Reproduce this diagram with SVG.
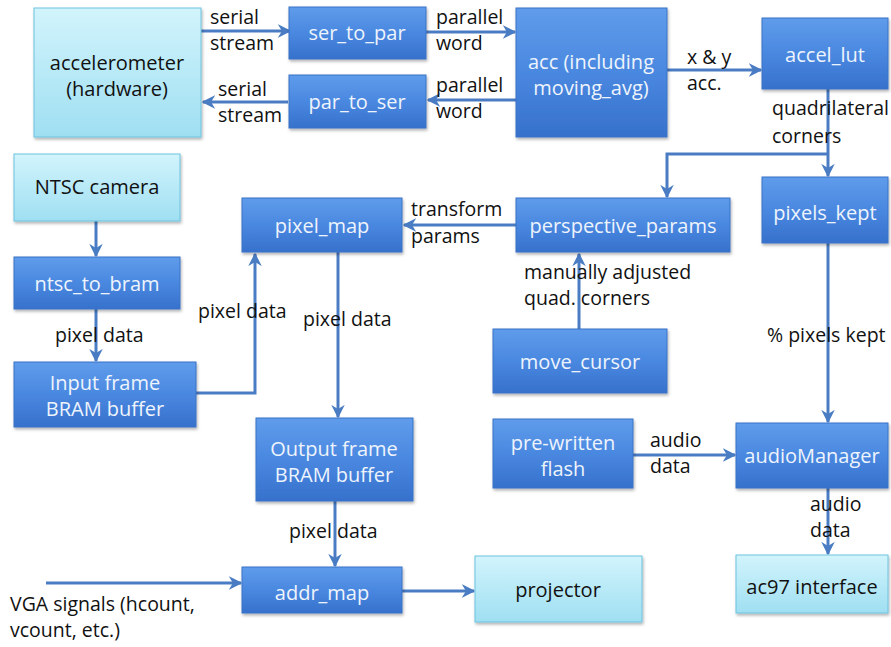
<svg xmlns="http://www.w3.org/2000/svg" width="891" height="647" viewBox="0 0 891 647">
<defs>
<linearGradient id="gd" x1="0" y1="0" x2="0" y2="1">
<stop offset="0" stop-color="#5f9ceb"/>
<stop offset="0.5" stop-color="#4a88e0"/>
<stop offset="1" stop-color="#3671cc"/>
</linearGradient>
<linearGradient id="gl" x1="0" y1="0" x2="0" y2="1">
<stop offset="0" stop-color="#d2f4fc"/>
<stop offset="1" stop-color="#9fdff2"/>
</linearGradient>
<filter id="sh" x="-10%" y="-10%" width="130%" height="140%">
<feDropShadow dx="1" dy="2" stdDeviation="1.5" flood-color="#000" flood-opacity="0.3"/>
</filter>
<marker id="ah" viewBox="0 0 10 10" refX="9" refY="5" markerWidth="4.5" markerHeight="4.5" orient="auto" markerUnits="strokeWidth">
<path d="M0,0 L10,5 L0,10 L3,5 Z" fill="#4a7cc4"/>
</marker>
</defs>
<style>
.d{fill:url(#gd);stroke:#3a72c6;stroke-width:1;filter:url(#sh)}
.l{fill:url(#gl);stroke:#6cc3df;stroke-width:1;filter:url(#sh)}
.td{font-family:"Open Sans","Liberation Sans",sans-serif;font-size:20px;fill:#eef4fc;text-anchor:middle}
.tl{font-family:"Open Sans","Liberation Sans",sans-serif;font-size:20px;fill:#111;text-anchor:middle}
.lb{font-family:"Open Sans","Liberation Sans",sans-serif;font-size:19.5px;fill:#111}
.c{fill:none;stroke:#4a7cc4;stroke-width:3;marker-end:url(#ah)}
</style>
<rect width="891" height="647" fill="#fff"/>
<g id="connectors">
<path class="c" d="M201,31 H290"/>
<path class="c" d="M288,102 H203"/>
<path class="c" d="M426,32 H515"/>
<path class="c" d="M516,100 H428"/>
<path class="c" d="M667,70 H761"/>
<path class="c" d="M828,89 V176"/>
<path class="c" d="M828,154 H667 V197"/>
<path class="c" d="M516,225 H404"/>
<path class="c" d="M579,329 V254"/>
<path class="c" d="M338,252 V417"/>
<path class="c" d="M196,393 H255 V254"/>
<path class="c" d="M96,221 V256"/>
<path class="c" d="M96,309 V361"/>
<path class="c" d="M335,501 V566"/>
<path class="c" d="M402,591 H474"/>
<path class="c" d="M46,583 H241"/>
<path class="c" d="M633,455 H735"/>
<path class="c" d="M828,243 V422"/>
<path class="c" d="M828,488 V554"/>
</g>
<g id="labels">
<text class="lb" x="210" y="24">serial</text>
<text class="lb" x="210" y="50">stream</text>
<text class="lb" x="218" y="96">serial</text>
<text class="lb" x="218" y="122">stream</text>
<text class="lb" x="436" y="24">parallel</text>
<text class="lb" x="436" y="50">word</text>
<text class="lb" x="436" y="92">parallel</text>
<text class="lb" x="436" y="118">word</text>
<text class="lb" x="687" y="64">x &amp; y</text>
<text class="lb" x="687" y="90">acc.</text>
<text class="lb" x="772" y="115">quadrilateral</text>
<text class="lb" x="772" y="143">corners</text>
<text class="lb" x="411" y="216">transform</text>
<text class="lb" x="411" y="243">params</text>
<text class="lb" x="524" y="279">manually adjusted</text>
<text class="lb" x="524" y="305">quad. corners</text>
<text class="lb" x="198" y="318">pixel data</text>
<text class="lb" x="303" y="326">pixel data</text>
<text class="lb" x="55" y="342">pixel data</text>
<text class="lb" x="767" y="342">% pixels kept</text>
<text class="lb" x="650" y="447">audio</text>
<text class="lb" x="650" y="473">data</text>
<text class="lb" x="810" y="511">audio</text>
<text class="lb" x="810" y="537">data</text>
<text class="lb" x="289" y="538">pixel data</text>
<text class="lb" x="10" y="611">VGA signals (hcount,</text>
<text class="lb" x="10" y="637">vcount, etc.)</text>
</g>
<g id="accelerometer"><rect class="l" x="34" y="8" width="167" height="129"/><text class="tl" x="117" y="70">accelerometer</text><text class="tl" x="117" y="96">(hardware)</text></g>
<g id="ser_to_par"><rect class="d" x="289" y="7" width="137" height="52"/><text class="td" x="357" y="40">ser_to_par</text></g>
<g id="par_to_ser"><rect class="d" x="289" y="75" width="137" height="53"/><text class="td" x="357" y="109">par_to_ser</text></g>
<g id="acc"><rect class="d" x="516" y="8" width="151" height="129"/><text class="td" x="591" y="69">acc (including</text><text class="td" x="591" y="95">moving_avg)</text></g>
<g id="accel_lut"><rect class="d" x="762" y="18" width="126" height="71"/><text class="td" x="825" y="62">accel_lut</text></g>
<g id="pixels_kept"><rect class="d" x="762" y="177" width="126" height="66"/><text class="td" x="825" y="220">pixels_kept</text></g>
<g id="ntsc_camera"><rect class="l" x="14" y="154" width="166" height="67"/><text class="tl" x="97" y="194">NTSC camera</text></g>
<g id="ntsc_to_bram"><rect class="d" x="14" y="257" width="166" height="52"/><text class="td" x="97" y="291">ntsc_to_bram</text></g>
<g id="input_frame"><rect class="d" x="14" y="362" width="182" height="65"/><text class="td" x="105" y="390">Input frame</text><text class="td" x="105" y="416">BRAM buffer</text></g>
<g id="pixel_map"><rect class="d" x="242" y="198" width="160" height="54"/><text class="td" x="322" y="233">pixel_map</text></g>
<g id="perspective_params"><rect class="d" x="516" y="198" width="214" height="54"/><text class="td" x="623" y="233">perspective_params</text></g>
<g id="move_cursor"><rect class="d" x="493" y="329" width="174" height="64"/><text class="td" x="580" y="369">move_cursor</text></g>
<g id="output_frame"><rect class="d" x="256" y="418" width="157" height="83"/><text class="td" x="334" y="456">Output frame</text><text class="td" x="334" y="482">BRAM buffer</text></g>
<g id="pre_written_flash"><rect class="d" x="493" y="419" width="140" height="69"/><text class="td" x="563" y="450">pre-written</text><text class="td" x="563" y="476">flash</text></g>
<g id="audioManager"><rect class="d" x="736" y="423" width="152" height="65"/><text class="td" x="812" y="463">audioManager</text></g>
<g id="addr_map"><rect class="d" x="242" y="567" width="160" height="46"/><text class="td" x="322" y="600">addr_map</text></g>
<g id="projector"><rect class="l" x="475" y="556" width="167" height="66"/><text class="tl" x="558" y="597">projector</text></g>
<g id="ac97"><rect class="l" x="736" y="555" width="152" height="58"/><text class="tl" x="812" y="594">ac97 interface</text></g>
</svg>
